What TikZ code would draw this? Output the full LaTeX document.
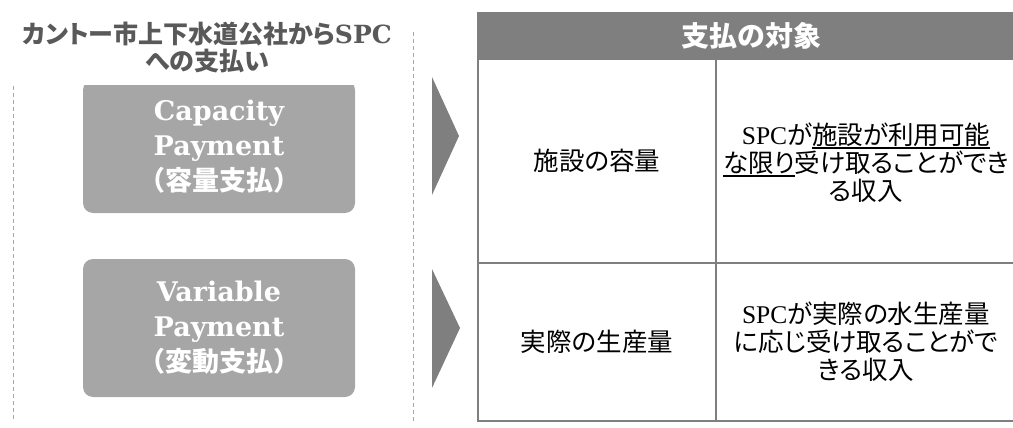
\documentclass[tikz,border=0pt]{standalone}
\usepackage{fontspec}
\setmainfont{Liberation Serif}
\newfontfamily\wideserif{DejaVu Serif}
\newfontfamily\cjk{Noto Sans CJK JP}
\newfontfamily\cjkp{Noto Sans CJK JP}[RawFeature=+palt]
\usepackage{tikz}
\usetikzlibrary{positioning}
\definecolor{darkgrey}{HTML}{7F7F7F}
\definecolor{boxgrey}{HTML}{A6A6A6}
\definecolor{titlegrey}{HTML}{595959}
\definecolor{sepgrey}{HTML}{A6A6A6}
\newcommand{\ulcjk}[1]{\setbox0\hbox{#1}\rlap{\rule[-4pt]{\wd0}{1.8pt}}\box0}
\tikzset{
  paybox/.style={fill=boxgrey, rounded corners=10pt, text=white, align=center,
    inner sep=0pt, minimum width=272pt,
    font={\fontsize{27}{35}\selectfont\bfseries}},
  sepline/.style={sepgrey, line width=1pt, dash pattern=on 4pt off 3pt},
  tline/.style={darkgrey, line width=2pt},
  cell/.style={align=center, inner sep=0pt,
    font={\fontsize{25.5}{28}\selectfont\cjkp}}
}

\begin{document}
\begin{tikzpicture}[x=1pt, y=-1pt]
            \useasboundingbox (0,0) rectangle (1013,428);

            %dashed frame lines
            \draw[sepline] (13,86) -- (13,421);
            \draw[sepline] (413,32) -- (413,421);

            %payment boxes
            \node[paybox, minimum height=133pt] (cap) at (219,146.5)
              {{\wideserif Capacity}\\{\wideserif Payment}\\{\cjk （容量支払）}};
            \node[paybox, minimum height=138pt] (var) at (219,328)
              {{\wideserif Variable}\\{\wideserif Payment}\\{\cjk （変動支払）}};

            %title
            \node[fill=white, text=titlegrey, align=center, inner sep=0pt,
              minimum width=400pt, minimum height=75pt,
              font={\fontsize{25}{27.5}\selectfont\bfseries\cjkp}] (title) at (207,47.5)
              {カントー市上下水道公社から{\wideserif SPC}\\への支払い};

            %arrows
            \fill[darkgrey] (432,77) -- (459,136) -- (432,195) -- cycle;
            \fill[darkgrey] (432,269) -- (460,328) -- (432,388) -- cycle;

            %table header
            \fill[darkgrey] (477,12) rectangle (1013,59);
            \node[text=white, inner sep=0pt,
              font={\fontsize{28}{30}\selectfont\bfseries\cjk}] (head) at (751,36) {支払の対象};

            %table lines
            \draw[tline] (1013,59) -- (478,59) -- (478,421) -- (1013,421);
            \draw[tline] (478,263) -- (1013,263);
            \draw[tline] (716,59) -- (716,421);

            %table cells
            \node[cell] (facility) at (597,161) {施設の容量};
            \node[cell] (facilitytext) at (866,163)
              {{\rmfamily SPC}が\ulcjk{施設が利用可能}\\\ulcjk{な限り}受け取ることができ\\る収入};
            \node[cell] (output) at (597,342) {実際の生産量};
            \node[cell] (outputtext) at (866,342)
              {{\rmfamily SPC}が実際の水生産量\\に応じ受け取ることがで\\きる収入};
\end{tikzpicture}
\end{document}
